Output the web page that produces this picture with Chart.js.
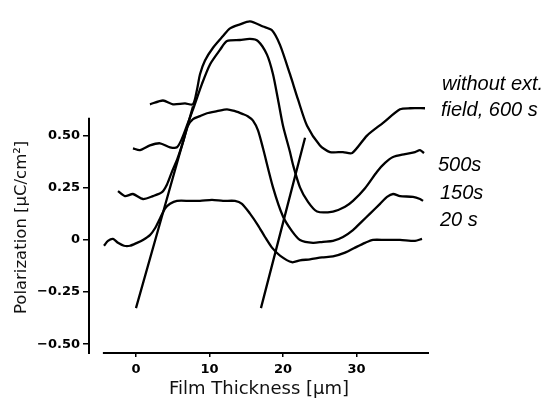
<!DOCTYPE html>
<html lang="en">
<head>
<meta charset="UTF-8">
<title>Polarization profiles</title>
<script src="https://cdn.jsdelivr.net/npm/chart.js"></script>
<style>
  body { margin: 0; background: #fff; }
  #wrap { width: 546px; height: 399px; }
</style>
</head>
<body>
<div id="wrap"><canvas id="chart" width="546" height="399"></canvas></div>
<script>
// film thickness (um) / polarization (uC/cm2)
const x600 = [1.9, 3.67, 5.03, 6.67, 7.76, 8.3, 8.71, 9.39, 10.48, 11.84, 12.79, 14.15, 15.51, 17.28, 18.5, 19.59, 20.95, 22.04, 23.27, 25.03, 26.39, 28.16, 29.39, 31.43, 33.61, 35.92, 37.28, 39.32];
const y600 = [0.65, 0.668, 0.65, 0.654, 0.65, 0.72, 0.794, 0.86, 0.921, 0.977, 1.014, 1.033, 1.047, 1.023, 1.005, 0.935, 0.794, 0.673, 0.547, 0.453, 0.421, 0.421, 0.416, 0.5, 0.561, 0.626, 0.631, 0.631];

const x500 = [-0.41, 0.54, 1.9, 3.27, 4.63, 5.58, 6.26, 7.07, 7.76, 8.98, 10.07, 11.43, 12.38, 14.15, 15.51, 16.6, 17.82, 18.64, 19.32, 20.0, 20.95, 21.36, 22.31, 23.4, 24.63, 26.8, 28.44, 29.52, 31.16, 32.79, 33.88, 34.97, 36.6, 37.96, 38.64, 39.18];
const y500 = [0.439, 0.43, 0.453, 0.463, 0.444, 0.444, 0.486, 0.561, 0.626, 0.748, 0.841, 0.911, 0.953, 0.958, 0.963, 0.953, 0.888, 0.794, 0.673, 0.547, 0.421, 0.36, 0.252, 0.182, 0.136, 0.136, 0.159, 0.187, 0.248, 0.327, 0.369, 0.397, 0.411, 0.421, 0.43, 0.416];

const x150 = [-2.45, -1.5, -0.41, 0.95, 2.31, 3.54, 4.22, 4.9, 5.58, 6.39, 7.07, 7.76, 8.71, 9.66, 11.02, 12.38, 13.47, 14.56, 15.2, 15.92, 16.6, 17.28, 18.64, 20.0, 21.22, 22.31, 24.08, 25.44, 26.8, 28.16, 29.52, 30.75, 31.84, 33.2, 34.15, 34.97, 35.92, 37.69, 38.64, 39.05];
const y150 = [0.234, 0.21, 0.22, 0.196, 0.21, 0.229, 0.266, 0.327, 0.383, 0.467, 0.547, 0.579, 0.593, 0.607, 0.617, 0.626, 0.617, 0.603, 0.593, 0.572, 0.525, 0.439, 0.252, 0.112, 0.042, 0, -0.014, -0.009, -0.005, 0.014, 0.047, 0.089, 0.126, 0.173, 0.206, 0.22, 0.21, 0.206, 0.196, 0.187];

const x20 = [-4.35, -3.81, -3.13, -2.45, -1.63, -0.82, 0.14, 0.95, 1.9, 2.59, 3.27, 3.95, 4.63, 5.58, 7.35, 8.71, 10.34, 11.84, 13.47, 14.42, 15.51, 16.6, 17.55, 18.5, 19.59, 21.22, 22.31, 23.67, 25.31, 26.8, 28.44, 29.8, 31.16, 32.24, 33.88, 35.92, 37.96, 38.91];
const y20 = [-0.028, -0.005, 0.005, -0.014, -0.028, -0.028, -0.014, 0, 0.023, 0.056, 0.103, 0.15, 0.173, 0.187, 0.187, 0.187, 0.192, 0.187, 0.187, 0.173, 0.126, 0.07, 0.014, -0.037, -0.075, -0.107, -0.098, -0.093, -0.084, -0.079, -0.061, -0.037, -0.014, 0, 0, 0, -0.005, 0.005];

// the two tangent lines
const xTanRise = [0, 7.76];
const yTanRise = [-0.327, 0.64];
const xTanFall = [17.0, 23.0];
const yTanFall = [-0.327, 0.49];

const xTicks = [0, 10, 20, 30];
const yTicks = [-0.5, -0.25, 0, 0.25, 0.5];
const seriesLabels = ['without ext. field, 600 s', '500s', '150s', '20 s'];

function pts(xs, ys) {
    return xs.map((x, i) => ({ x: x, y: ys[i] }));
}

function curve(label, xs, ys) {
    return {
        label: label,
        data: pts(xs, ys),
        borderColor: '#000',
        borderWidth: 2.3,
        pointRadius: 0,
        tension: 0.25,
        fill: false
    };
}

// axis lines, y title and the labels at the right
const decor = {
    id: 'decor',
    afterDraw(chart) {
        const ctx = chart.ctx;
        const xs = chart.scales.x, ys = chart.scales.y;
        const a = chart.chartArea;
        ctx.save();
        ctx.strokeStyle = '#000';
        ctx.lineWidth = 2;
        ctx.beginPath();
        ctx.moveTo(a.left, ys.getPixelForValue(0.585));
        ctx.lineTo(a.left, a.bottom + 1);
        ctx.moveTo(xs.getPixelForValue(-4.5), a.bottom);
        ctx.lineTo(a.right, a.bottom);
        ctx.stroke();

        ctx.fillStyle = '#111';
        ctx.font = '16.5px "DejaVu Sans"';
        ctx.textAlign = 'center';
        ctx.textBaseline = 'middle';
        ctx.translate(22, ys.getPixelForValue(0.06));
        ctx.rotate(-Math.PI / 2);
        ctx.fillText('Polarization [µC/cm²]', 0, 0);
        ctx.restore();

        ctx.save();
        ctx.fillStyle = '#000';
        ctx.font = 'italic 20px "Liberation Sans"';
        ctx.textAlign = 'left';
        ctx.textBaseline = 'alphabetic';
        ctx.fillText('without ext.', 442, 90);
        ctx.fillText('field, 600 s', 441, 116);
        ctx.fillText(seriesLabels[1], 438, 171);
        ctx.fillText(seriesLabels[2], 440, 199);
        ctx.fillText(seriesLabels[3], 440, 226);
        ctx.restore();
    }
};

new Chart(document.getElementById('chart'), {
    type: 'line',
    data: {
        datasets: [
            curve(seriesLabels[0], x600, y600),
            curve(seriesLabels[1], x500, y500),
            curve(seriesLabels[2], x150, y150),
            curve(seriesLabels[3], x20, y20),
            curve('tangent rise', xTanRise, yTanRise),
            curve('tangent fall', xTanFall, yTanFall)
        ]
    },
    options: {
        responsive: false,
        animation: false,
        devicePixelRatio: 1,
        layout: { padding: { top: 2, right: 117, left: 0, bottom: 0 } },
        plugins: {
            legend: { display: false },
            tooltip: { enabled: false }
        },
        scales: {
            x: {
                type: 'linear',
                min: -6.39,
                max: 39.86,
                afterBuildTicks: s => { s.ticks = xTicks.map(v => ({ value: v })); },
                afterFit: s => { s.height = 46; },
                border: { display: false },
                grid: { display: true, drawOnChartArea: false, color: '#000', lineWidth: 1.5, tickLength: 4 },
                ticks: {
                    color: '#000',
                    padding: 5,
                    maxRotation: 0,
                    font: { family: 'DejaVu Sans', size: 13, weight: 'bold' }
                },
                title: {
                    display: true,
                    text: 'Film Thickness [µm]',
                    color: '#111',
                    padding: 0,
                    font: { family: 'DejaVu Sans', size: 18, lineHeight: 1.1 }
                }
            },
            y: {
                min: -0.542,
                max: 1.098,
                afterBuildTicks: s => { s.ticks = yTicks.map(v => ({ value: v })); },
                afterFit: s => { s.width = 89; },
                border: { display: false },
                grid: { display: true, drawOnChartArea: false, color: '#000', lineWidth: 1.5, tickLength: 6 },
                ticks: {
                    color: '#000',
                    padding: 3,
                    font: { family: 'DejaVu Sans', size: 13, weight: 'bold' },
                    callback: v => v === 0 ? '0' : (v < 0 ? '−' + Math.abs(v).toFixed(2) : v.toFixed(2))
                }
            }
        }
    },
    plugins: [decor]
});
</script>
</body>
</html>
